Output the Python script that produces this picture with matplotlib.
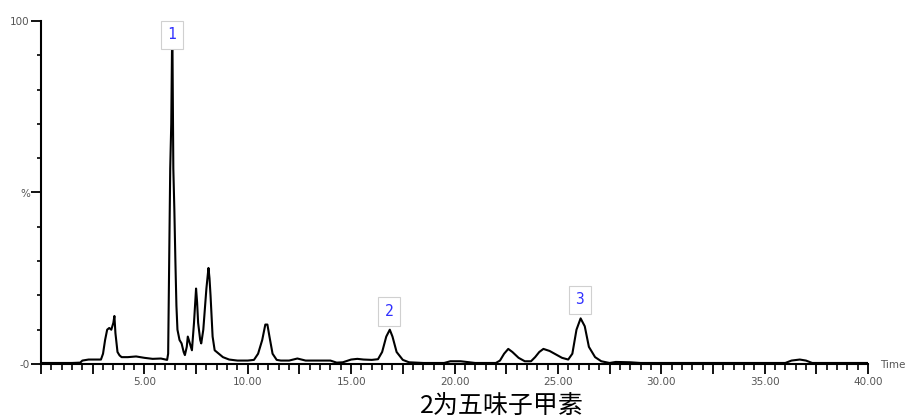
"""Chromatogram (TIC) with three labelled peaks."""

import matplotlib.pyplot as plt
from matplotlib.ticker import MultipleLocator, FuncFormatter

# ── Data ──
time_min = [
    0.0, 0.5, 1.0, 1.5, 1.9, 2.0, 2.3, 2.6, 2.9, 3.0, 3.1, 3.2, 3.3, 3.4,
    3.5, 3.55, 3.6, 3.7, 3.8, 3.9, 4.2, 4.6, 5.0, 5.4, 5.8, 6.1, 6.15, 6.2,
    6.25, 6.3, 6.35, 6.4, 6.45, 6.5, 6.55, 6.6, 6.7, 6.8, 6.9, 6.96, 7.05,
    7.1, 7.2, 7.3, 7.4, 7.45, 7.5, 7.55, 7.6, 7.7, 7.75, 7.85, 7.95, 8.0,
    8.1, 8.15, 8.2, 8.3, 8.4, 8.5, 8.6, 8.8, 9.1, 9.5, 10.0, 10.3, 10.5,
    10.7, 10.85, 10.95, 11.05, 11.2, 11.4, 11.6, 12.0, 12.4, 12.6, 12.8,
    13.5, 14.0, 14.3, 14.6, 15.0, 15.3, 15.6, 16.0, 16.3, 16.5, 16.7, 16.87,
    17.0, 17.2, 17.5, 17.8, 18.5, 19.5, 19.8, 20.3, 21.0, 22.0, 22.2, 22.4,
    22.6, 22.8, 23.1, 23.4, 23.7, 23.9, 24.1, 24.3, 24.6, 24.9, 25.2, 25.5,
    25.7, 25.9, 26.1, 26.3, 26.5, 26.8, 27.1, 27.5, 27.8, 28.5, 29.0, 32.0,
    36.0, 36.3, 36.7, 37.0, 37.3, 38.0, 40.0,
]
intensity_pct = [
    0.3, 0.3, 0.3, 0.3, 0.4, 1.0, 1.3, 1.3, 1.3, 3.0, 7.0, 10.0, 10.5, 10.0,
    12.0, 14.0, 9.0, 3.5, 2.5, 2.0, 2.0, 2.2, 1.8, 1.5, 1.6, 1.2, 3.0, 30.0,
    57.0, 70.0, 100.0, 57.0, 45.0, 30.0, 17.0, 10.0, 7.0, 6.0, 3.5, 2.6, 5.0,
    8.0, 6.0, 4.0, 12.0, 17.0, 22.0, 18.0, 12.0, 7.0, 6.0, 10.0, 18.0, 22.0,
    28.0, 25.0, 20.0, 8.0, 4.0, 3.5, 3.0, 2.0, 1.3, 1.0, 1.0, 1.2, 3.0,
    7.0, 11.5, 11.5, 8.0, 3.0, 1.2, 1.0, 1.0, 1.6, 1.3, 1.0,
    1.0, 1.0, 0.4, 0.5, 1.3, 1.5, 1.3, 1.2, 1.4, 3.5, 8.0, 10.0,
    8.0, 3.5, 1.2, 0.5, 0.3, 0.3, 0.8, 0.8, 0.3, 0.3, 1.0, 3.0,
    4.4, 3.5, 1.8, 0.8, 0.8, 2.0, 3.5, 4.4, 3.8, 2.8, 1.8, 1.3,
    3.0, 10.0, 13.3, 11.0, 5.0, 2.0, 0.8, 0.3, 0.6, 0.5, 0.3, 0.3,
    0.3, 1.0, 1.3, 1.0, 0.3, 0.3, 0.3,
]

peak_labels = ["1", "2", "3"]
peak_times = [6.33, 16.84, 26.05]
peak_label_y = [96.0, 15.3, 18.7]

y_tick_vals = [0, 50, 100]
y_tick_text = ["-0", "%", "100"]

caption = "2为五味子甲素"

plt.rcParams["font.family"] = ["Noto Sans CJK SC", "DejaVu Sans"]

fig = plt.figure(figsize=(9.13, 4.19), dpi=100)
ax = fig.add_axes([41 / 913, 55 / 419, 827 / 913, 343 / 419])

ax.plot(time_min, intensity_pct, color="black", lw=1.5, zorder=2)

ax.set_xlim(0, 40)
ax.set_ylim(0, 100)

for side in ("top", "right"):
    ax.spines[side].set_visible(False)
for side in ("left", "bottom"):
    ax.spines[side].set_linewidth(1.5)

# ── x ticks: long every 2.5, short every 0.5, labels every 5 ──
ax.xaxis.set_major_locator(MultipleLocator(2.5))
ax.xaxis.set_minor_locator(MultipleLocator(0.5))
ax.xaxis.set_major_formatter(
    FuncFormatter(lambda v, p: f"{v:.2f}" if abs(v % 5) < 1e-6 and v > 0 else "")
)
ax.tick_params(axis="x", which="major", length=7, width=1.3, direction="out",
               labelsize=7.5, labelcolor="#555555", pad=2)
ax.tick_params(axis="x", which="minor", length=4, width=1.2, direction="out")

# ── y ticks ──
ax.set_yticks(y_tick_vals)
ax.set_yticklabels(y_tick_text)
ax.yaxis.set_minor_locator(MultipleLocator(10))
ax.tick_params(axis="y", which="major", length=7, width=1.3, direction="out",
               labelsize=7.5, labelcolor="#555555", pad=1)
ax.tick_params(axis="y", which="minor", length=3, width=1.2, direction="out")
for lab in ax.get_xticklabels() + ax.get_yticklabels():
    lab.set_family(["DejaVu Sans"])

# ── Peak labels ──
for lab, t, y in zip(peak_labels, peak_times, peak_label_y):
    ax.text(t, y, lab, ha="center", va="center", fontsize=10.5,
            color="#3030ff", family=["DejaVu Sans Mono"], zorder=5,
            bbox=dict(boxstyle="square,pad=0.45", facecolor="white",
                      edgecolor="#d0d0d0", linewidth=0.8))

fig.text(880 / 913, 1 - 365 / 419, "Time", ha="left", va="center",
         fontsize=7.5, color="#555555", family=["DejaVu Sans"])

fig.text(502 / 913, 1 - 407 / 419, caption, ha="center", va="center",
         fontsize=18, color="black")

fig.savefig("out.png", dpi=100)
